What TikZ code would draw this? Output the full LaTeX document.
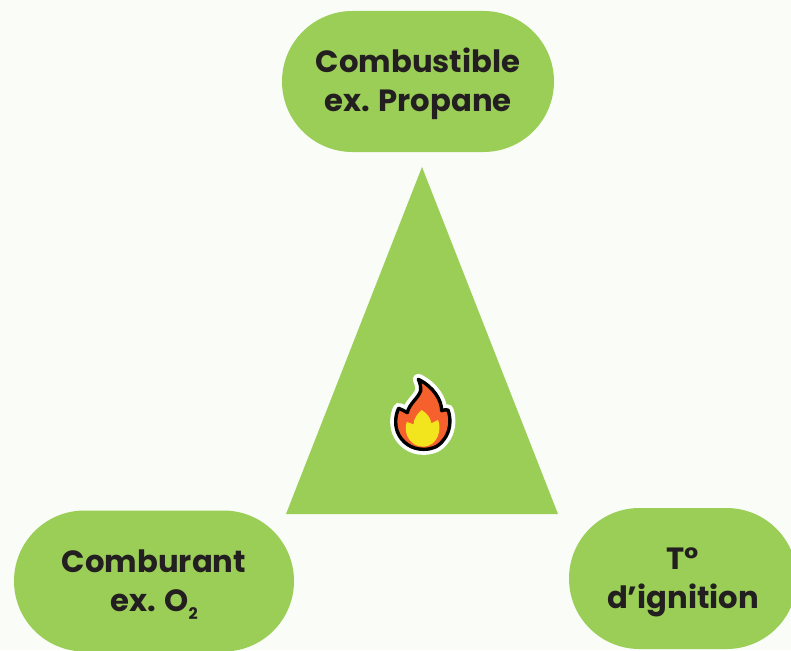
\documentclass[tikz,border=0pt]{standalone}
\usepackage{fontspec}
\setmainfont{Poppins}
\usetikzlibrary{shapes.misc}
\definecolor{paper}{HTML}{F9FCF7}
\definecolor{leaf}{HTML}{9BCE57}
\definecolor{ink}{HTML}{231F20}
\definecolor{flameout}{HTML}{F6602D}
\definecolor{flamein}{HTML}{F2E51D}
\tikzset{
	pill/.style={
			shape=rounded rectangle, fill=leaf, text=ink, inner sep=0pt,
			minimum height=141pt, align=center,
			font=\fontsize{30.7}{39}\selectfont\bfseries
		}
}
\newcommand{\linedown}{\rule{0pt}{30pt}}
\newcommand{\flameshape}{(145,58) .. controls (190,80) and (215,120) .. (215,152)
	.. controls (222,150) and (228,148) .. (234,150)
	.. controls (245,180) and (240,215) .. (222,238)
	.. controls (205,262) and (185,268) .. (160,268)
	.. controls (125,268) and (95,248) .. (82,215)
	.. controls (74,192) and (76,165) .. (86,145)
	.. controls (95,148) and (105,154) .. (112,158)
	.. controls (118,130) and (145,115) .. (152,92)
	.. controls (153,80) and (150,68) .. (145,58) -- cycle}
\begin{document}
\begin{tikzpicture}[x=1pt,y=-1pt]
        \useasboundingbox (0, 0) rectangle (791, 650);
        \fill[paper] (0, 0) rectangle (791, 650);
        \coordinate (apex) at (422, 167);
        \coordinate (base_l) at (286, 514);
        \coordinate (base_r) at (558, 514);
        \fill[leaf] (apex) -- (base_r) -- (base_l) -- cycle;
        \clip (0, 0) rectangle (791, 650);
        \node[pill,minimum width=272pt] (fuel) at (418, 81.5) {\linedown Combustible\\ex. Propane};
        \node[pill,minimum width=280pt] (oxidizer) at (154, 581) {\linedown Comburant\\ex. O\raisebox{-8pt}{\fontsize{16}{16}\selectfont 2}};
        \node[pill,minimum width=228pt] (heat) at (683, 578.5) {\linedown T°\\d’ignition};
        \begin{scope}[shift={(370,360)},x=0.3333pt,y=-0.3333pt]
            \draw[white,line width=11pt,line join=round] \flameshape;
            \draw[black,fill=flameout,line width=3.4pt,line join=round] \flameshape;
            \fill[flamein] (155,150) .. controls (172,160) and (182,175) .. (184,190)
                .. controls (192,186) and (198,182) .. (204,180)
                .. controls (216,205) and (205,260) .. (158,260)
                .. controls (125,260) and (98,225) .. (110,186)
                .. controls (118,188) and (125,190) .. (130,194)
                .. controls (132,175) and (142,160) .. (155,150) -- cycle;
        \end{scope}
    \end{tikzpicture}
\end{document}
